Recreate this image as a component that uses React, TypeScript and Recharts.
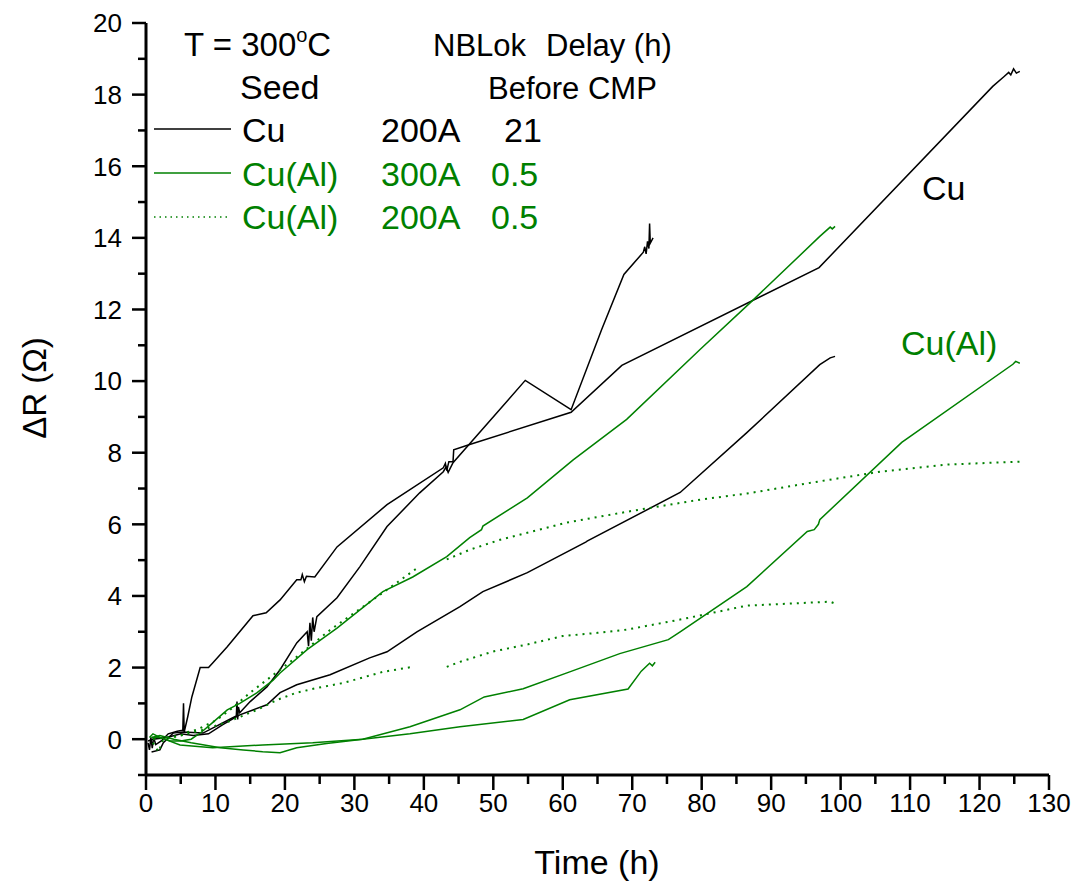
import React from "react";
import { LineChart, Line, XAxis, YAxis } from "recharts";

// --- data (t in hours, dR in ohm) ---

type Pair = [number, number | null];

// every tick position; multiples of 10 (x) / even values (y) get labels
const xTicks = [0, 5, 10, 15, 20, 25, 30, 35, 40, 45, 50, 55, 60, 65, 70, 75, 80, 85, 90, 95, 100, 105, 110, 115, 120, 125, 130];
const yTicks = [-1, 0, 1, 2, 3, 4, 5, 6, 7, 8, 9, 10, 11, 12, 13, 14, 15, 16, 17, 18, 19, 20];

// Cu seed, 200A, 21 h delay (three samples)
const cuA: Pair[] = [
  [0.3, -0.1], [0.5, -0.3], [0.7, 0.05], [0.9, -0.25], [1.1, 0.05], [1.4, -0.15],
  [2.2, -0.05], [3.2, 0.15], [4.5, 0.22], [5.3, 0.25], [5.4, 1.0], [5.5, 0.2],
  [6.0, 0.62], [6.6, 1.18], [7.8, 2.0], [9.0, 2.0], [9.6, 2.13], [11.7, 2.58],
  [15.4, 3.45], [17.3, 3.53], [19.3, 3.89], [21.7, 4.45], [22.3, 4.45], [22.5, 4.6],
  [22.8, 4.4], [23.1, 4.55], [24.3, 4.53], [27.5, 5.37], [34.7, 6.55], [42.8, 7.58],
  [43.1, 7.7], [43.3, 7.5], [43.6, 7.75], [44.2, 7.75], [44.3, 8.08], [46.6, 8.23],
  [61.2, 9.13], [68.5, 10.44], [96.9, 13.17], [121.9, 18.23], [123.5, 18.5],
  [124.2, 18.62], [124.5, 18.55], [124.9, 18.72], [125.3, 18.6], [125.8, 18.65],
];

const cuB: Pair[] = [
  [0.8, -0.36], [2.0, -0.3], [2.5, -0.1], [3.9, 0.17], [5.3, 0.2], [8.2, 0.17],
  [10, 0.35], [12, 0.55], [13.0, 0.65], [13.1, 1.05], [13.2, 0.55], [13.3, 0.9],
  [13.5, 0.74], [15, 1.05], [17.4, 1.46], [19.3, 1.94], [21.7, 2.69], [23.2, 3.0],
  [23.4, 2.6], [23.6, 3.25], [23.8, 2.75], [24.0, 3.4], [24.2, 3.0], [24.6, 3.42],
  [27.5, 3.95], [30.8, 4.82], [34.7, 5.94], [39.4, 6.88], [42.8, 7.47], [43.2, 7.6],
  [43.5, 7.45], [44.2, 7.72], [54.6, 10.02], [61.2, 9.2], [65.6, 11.44], [68.8, 12.98],
  [71.6, 13.6], [71.8, 13.75], [72.0, 13.55], [72.2, 13.9], [72.4, 13.7], [72.5, 14.4],
  [72.6, 13.85], [73.0, 14.0],
];

const cuC: Pair[] = [
  [0.3, -0.05], [1, 0.0], [3, 0.05], [5, 0.15], [6.8, 0.1], [9, 0.15], [11, 0.4],
  [13.5, 0.68], [17.4, 0.96], [19.3, 1.3], [21.7, 1.52], [26.5, 1.8], [32.2, 2.27],
  [34.7, 2.44], [39, 3.0], [45.2, 3.7], [48.5, 4.12], [54.9, 4.65], [63.3, 5.5],
  [63.5, 5.53], [76.9, 6.89], [86.5, 8.56], [97, 10.46], [98.5, 10.65], [99.2, 10.69],
];

// Cu(Al) seed, 300A, 0.5 h delay
const cuAl300A: Pair[] = [
  [0.5, 0.05], [1.0, 0.15], [2, 0.05], [3.5, -0.05], [5, -0.05], [6.5, 0.0], [8, 0.2],
  [9.5, 0.45], [11.7, 0.82], [13.5, 1.0], [16, 1.3], [18.3, 1.65], [19.3, 1.85],
  [23.2, 2.5], [27.5, 3.1], [34.1, 4.12], [38.4, 4.53], [43.3, 5.1], [46.6, 5.63],
  [48.3, 5.85], [48.5, 5.95], [54.9, 6.74], [61.5, 7.8], [69.2, 8.93], [79.8, 10.89],
  [87, 12.19], [97, 14.04], [98.5, 14.3], [98.8, 14.25], [99.2, 14.32],
];

const cuAl300B: Pair[] = [
  [0.8, 0.05], [2, 0.1], [4, 0.0], [6.5, -0.1], [10.7, -0.24], [14, -0.3], [16.8, -0.35],
  [19.3, -0.38], [21.7, -0.24], [26, -0.12], [31.2, 0.0], [38, 0.15], [45.2, 0.35],
  [54.3, 0.55], [61, 1.1], [69.4, 1.4], [71.3, 1.9], [72.5, 2.12], [72.9, 2.05], [73.3, 2.15],
];

const cuAl300C: Pair[] = [
  [0.8, 0.05], [2, 0.05], [4.9, -0.16], [9.6, -0.24], [16.8, -0.16], [24, -0.1],
  [31.2, 0.0], [38, 0.35], [45.2, 0.82], [48.7, 1.18], [54.3, 1.41], [61, 1.88],
  [68.2, 2.39], [75.2, 2.78], [76.9, 3.0], [86.5, 4.26], [95.2, 5.8], [96.2, 5.85],
  [96.8, 6.0], [97, 6.13], [108.8, 8.29], [124.8, 10.47], [125.2, 10.55], [125.8, 10.5],
];

// Cu(Al) seed, 200A, 0.5 h delay (gap in logging around 40 h)
const cuAl200A: Pair[] = [
  [1, -0.1], [1.8, -0.35], [2.5, 0.0], [5, 0.1], [6, 0.2], [7.3, 0.26], [10.2, 0.54],
  [12.1, 0.82], [15, 1.3], [18.9, 1.88], [21.7, 2.3], [26.5, 3.05], [27.6, 3.2],
  [33.3, 3.98], [35.6, 4.3], [39.4, 4.83], [41, null], [43.3, 5.02], [46.6, 5.29],
  [51, 5.57], [60.6, 6.05], [70.1, 6.38], [79.8, 6.69], [86.5, 6.86], [96, 7.17],
  [105.7, 7.47], [115.3, 7.67], [125.8, 7.75],
];

const cuAl200B: Pair[] = [
  [1, 0.0], [3, 0.05], [5, 0.1], [8, 0.25], [12, 0.5], [16, 0.82], [18.9, 1.1],
  [21.7, 1.3], [24.6, 1.43], [28.4, 1.57], [34.1, 1.88], [38.4, 2.02], [41, null],
  [43.3, 2.02], [45.2, 2.16], [50, 2.45], [55, 2.65], [60, 2.88], [65, 2.97],
  [69.2, 3.06], [76.9, 3.34], [86.5, 3.73], [98.5, 3.84], [99.5, 3.76],
];

const GREEN = "#008000";
const FONT = "'Liberation Sans', Arial, sans-serif";

const toRows = (pts: Pair[]) => pts.map(([t, v]) => ({ t, v }));

const series = [
  { name: "cuA", data: cuA, color: "#000", dash: undefined },
  { name: "cuB", data: cuB, color: "#000", dash: undefined },
  { name: "cuC", data: cuC, color: "#000", dash: undefined },
  { name: "cuAl300A", data: cuAl300A, color: GREEN, dash: undefined },
  { name: "cuAl300B", data: cuAl300B, color: GREEN, dash: undefined },
  { name: "cuAl300C", data: cuAl300C, color: GREEN, dash: undefined },
  { name: "cuAl200A", data: cuAl200A, color: GREEN, dash: "2 5" },
  { name: "cuAl200B", data: cuAl200B, color: GREEN, dash: "2 5" },
];

const W = 1077;
const H = 884;

// tick renderers: draw major/minor tick marks and labels by hand
const XTick = ({ x, y, payload }: any) => {
  const major = payload.value % 10 === 0;
  return (
    <g>
      <line x1={x} x2={x} y1={y} y2={y + (major ? 15 : 9)} stroke="#000" strokeWidth={2.5} />
      {major && (
        <text x={x} y={y + 18} dy="0.72em" textAnchor="middle" fontSize={26} fontFamily={FONT} fill="#000">
          {payload.value}
        </text>
      )}
    </g>
  );
};

const YTick = ({ x, y, payload }: any) => {
  const v = payload.value;
  const major = v >= 0 && v % 2 === 0;
  return (
    <g>
      <line x1={x - (major ? 14 : 8)} x2={x} y1={y} y2={y} stroke="#000" strokeWidth={2.5} />
      {major && (
        <text x={x - 24} y={y} dy="0.36em" textAnchor="end" fontSize={26} fontFamily={FONT} fill="#000">
          {v}
        </text>
      )}
    </g>
  );
};

// legend + annotations drawn on top of the chart
const Overlay = () => (
  <svg
    width={W}
    height={H}
    style={{ position: "absolute", left: 0, top: 0, pointerEvents: "none" }}
    fontFamily={FONT}
  >
    <text x={184} y={56} fontSize={33}>
      T = 300<tspan dy={-14} fontSize={20}>o</tspan>
      <tspan dy={14}>C</tspan>
    </text>
    <text x={433} y={56} fontSize={31}>NBLok</text>
    <text x={546} y={56} fontSize={31}>Delay (h)</text>
    <text x={240} y={99} fontSize={34}>Seed</text>
    <text x={488} y={99} fontSize={31}>Before CMP</text>

    <line x1={154} x2={231} y1={129} y2={129} stroke="#000" strokeWidth={1.5} />
    <text x={242} y={142} fontSize={34}>Cu</text>
    <text x={381} y={142} fontSize={34}>200A</text>
    <text x={504} y={142} fontSize={34}>21</text>

    <line x1={154} x2={231} y1={173} y2={173} stroke={GREEN} strokeWidth={1.5} />
    <text x={242} y={186} fontSize={34} fill={GREEN}>Cu(Al)</text>
    <text x={381} y={186} fontSize={34} fill={GREEN}>300A</text>
    <text x={491} y={186} fontSize={34} fill={GREEN}>0.5</text>

    <line x1={154} x2={231} y1={217} y2={217} stroke={GREEN} strokeWidth={1.5} strokeDasharray="1.5 4" />
    <text x={242} y={229} fontSize={34} fill={GREEN}>Cu(Al)</text>
    <text x={381} y={229} fontSize={34} fill={GREEN}>200A</text>
    <text x={491} y={229} fontSize={34} fill={GREEN}>0.5</text>

    <text x={922} y={200} fontSize={34}>Cu</text>
    <text x={901} y={355} fontSize={34} fill={GREEN}>Cu(Al)</text>

    <text x={597} y={874} fontSize={34} textAnchor="middle">Time (h)</text>
    <text transform="translate(46,388) rotate(-90)" fontSize={33} textAnchor="middle">
      ΔR (Ω)
    </text>
  </svg>
);

export default function App() {
  return (
    <div style={{ position: "absolute", left: 0, top: 0, width: W, height: H, background: "#fff" }}>
      <LineChart width={W} height={H} margin={{ top: 23, right: 28, left: 86, bottom: 79 }}>
        <XAxis
          dataKey="t"
          type="number"
          domain={[0, 130]}
          ticks={xTicks}
          interval={0}
          height={30}
          tickSize={0}
          tickMargin={0}
          tick={XTick}
          tickLine={false}
          axisLine={{ stroke: "#000", strokeWidth: 3 }}
        />
        <YAxis
          type="number"
          domain={[-1, 20]}
          ticks={yTicks}
          interval={0}
          width={60}
          tickSize={0}
          tickMargin={0}
          tick={YTick}
          tickLine={false}
          axisLine={{ stroke: "#000", strokeWidth: 3 }}
        />
        {series.map((s) => (
          <Line
            key={s.name}
            data={toRows(s.data)}
            dataKey="v"
            type="linear"
            stroke={s.color}
            strokeWidth={s.dash ? 2 : 1.5}
            strokeDasharray={s.dash}
            dot={false}
            activeDot={false}
            connectNulls={false}
            isAnimationActive={false}
          />
        ))}
      </LineChart>
      <Overlay />
    </div>
  );
}
